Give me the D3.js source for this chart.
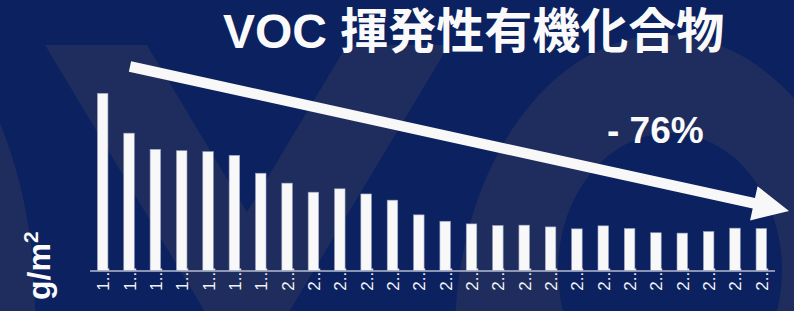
<!DOCTYPE html>
<html>
<head>
<meta charset="utf-8">
<script src="https://cdn.jsdelivr.net/npm/d3@7"></script>
<style>
  body { margin: 0; background: #0b2160; }
  svg { display: block; }
</style>
</head>
<body>
<div id="chart"></div>
<script>
const w = 794;
const h = 311;

// data (g/m2)
const years = [1993, 1994, 1995, 1996, 1997, 1998, 1999, 2000, 2001, 2002, 2003, 2004, 2005,
               2006, 2007, 2008, 2009, 2010, 2011, 2012, 2013, 2014, 2015, 2016, 2017, 2018];
const voc = [100, 77.5, 68.4, 67.6, 67.1, 65.0, 54.9, 49.3, 44.2, 46.1, 43.2, 39.7, 31.4,
             27.8, 26.3, 25.4, 25.6, 24.6, 23.5, 25.2, 23.7, 21.3, 21.1, 22.0, 23.9, 23.7];
const title = "VOC 揮発性有機化合物";
const unitLabel = "g/m";

const bg = "#0b2160";
const ghost = "#1f2d5e";

var svg = d3.select("#chart")
            .append("svg")
            .attr("width", w)
            .attr("height", h);

svg.append("rect").attr("width", w).attr("height", h).attr("fill", bg);

// big faded "VOC" letters in the background
var wm = svg.append("g").attr("fill", ghost);
wm.append("ellipse").attr("cx", -170).attr("cy", 311).attr("rx", 205).attr("ry", 336);
wm.append("path").attr("d", "M45,45 L147,45 L247,212 L347,45 L449,45 L247,382 Z");
wm.append("ellipse").attr("cx", 665).attr("cy", 335).attr("rx", 210).attr("ry", 300);
wm.append("ellipse").attr("cx", 670).attr("cy", 270).attr("rx", 112).attr("ry", 137).attr("fill", bg);

var x = d3.scaleBand()
          .domain(years)
          .range([89.5, 774.5])
          .paddingInner(0.6)
          .paddingOuter(0.3);

var y = d3.scaleLinear()
          .domain([0, 100])
          .range([270.5, 93.3]);

svg.append("text")
   .attr("x", 223)
   .attr("y", 48)
   .attr("fill", "#fafafa")
   .style("font-family", "'Liberation Sans', 'Noto Sans CJK JP', sans-serif")
   .style("font-weight", "bold")
   .style("font-size", "48px")
   .text(title);

svg.append("g")
   .selectAll("rect")
   .data(voc)
   .enter()
   .append("rect")
   .attr("x", (d, i) => x(years[i]))
   .attr("y", (d) => y(d))
   .attr("width", x.bandwidth())
   .attr("height", (d) => y(0) - y(d))
   .attr("fill", "#f8f8f8")
   .attr("stroke", "#98a0bf")
   .attr("stroke-width", 0.6);

var xAxis = d3.axisBottom(x)
              .tickSize(0)
              .tickSizeOuter(0)
              .tickFormat((d) => String(d)[0] + "...");

var ax = svg.append("g")
            .attr("transform", "translate(0," + y(0) + ")")
            .call(xAxis);

ax.select(".domain").attr("stroke", "#b4bbd2").attr("stroke-width", 1.3);
ax.selectAll("text")
  .attr("transform", "rotate(-90)")
  .attr("text-anchor", "end")
  .attr("x", 3.5)
  .attr("y", 6.5)
  .attr("dy", 0)
  .attr("fill", "#f2f2f2")
  .style("font-family", "'Liberation Sans', sans-serif")
  .style("font-size", "17px");

// trend arrow
var s = [130, 66.5], t = [789, 211];
var len = Math.hypot(t[0] - s[0], t[1] - s[1]);
var u = [(t[0] - s[0]) / len, (t[1] - s[1]) / len];
var n = [-u[1], u[0]];
var headLen = 36, headHalf = 17.5, shaftHalf = 5.3;
var b = [t[0] - u[0] * headLen, t[1] - u[1] * headLen];
var pt = (p, k) => [p[0] + n[0] * k, p[1] + n[1] * k];
var arrow = [pt(s, -shaftHalf), pt(b, -shaftHalf), pt(b, -headHalf), t,
             pt(b, headHalf), pt(b, shaftHalf), pt(s, shaftHalf)];

svg.append("path")
   .attr("d", d3.line()(arrow) + "Z")
   .attr("fill", "#f8f8f8");

var drop = Math.round((1 - voc[voc.length - 1] / voc[0]) * 100);
svg.append("text")
   .attr("x", 607)
   .attr("y", 143)
   .attr("fill", "#fafafa")
   .style("font-family", "'Liberation Sans', sans-serif")
   .style("font-weight", "bold")
   .style("font-size", "37px")
   .text("- " + drop + "%");

var yl = svg.append("text")
   .attr("transform", "translate(50,300) rotate(-90)")
   .attr("fill", "#fafafa")
   .style("font-family", "'Liberation Sans', sans-serif")
   .style("font-weight", "bold")
   .style("font-size", "32px")
   .text(unitLabel);
yl.append("tspan")
  .attr("dy", -12)
  .style("font-size", "21px")
  .text("2");
</script>
</body>
</html>
